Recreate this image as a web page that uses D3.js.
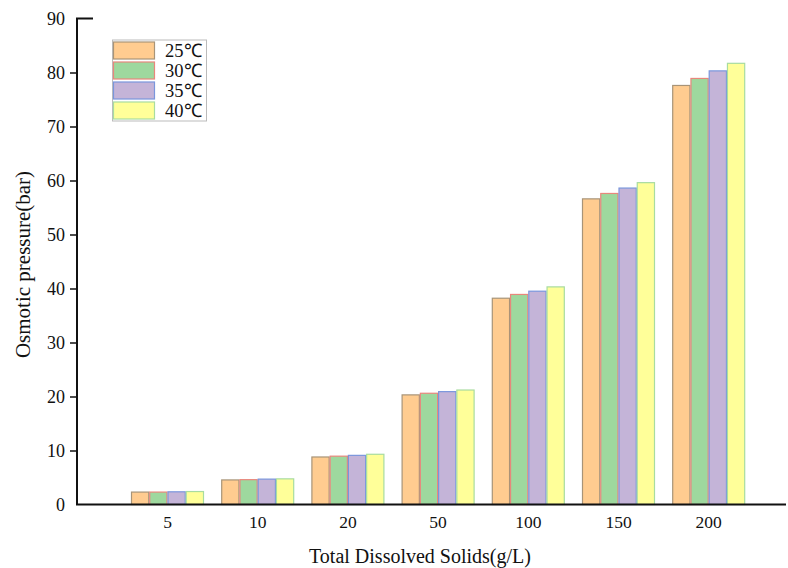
<!DOCTYPE html>
<html>
<head>
<meta charset="utf-8">
<script src="https://cdn.jsdelivr.net/npm/d3@7"></script>
<style>
  html, body { margin: 0; padding: 0; background: #fff; }
  svg { display: block; }
  text { font-family: "Liberation Serif", "Times New Roman", serif; fill: #111; }
</style>
</head>
<body>
<div id="chart"></div>
<script>
// Osmotic pressure of saline water at several temperatures
const categories = ["5", "10", "20", "50", "100", "150", "200"];
const seriesNames = ["25\u2103", "30\u2103", "35\u2103", "40\u2103"];
const t25 = [2.3, 4.55, 8.8, 20.3, 38.2, 56.6, 77.6];
const t30 = [2.3, 4.6, 8.95, 20.6, 38.9, 57.6, 78.9];
const t35 = [2.35, 4.7, 9.1, 20.9, 39.5, 58.6, 80.3];
const t40 = [2.4, 4.75, 9.3, 21.2, 40.3, 59.6, 81.7];
const yTicks = [0, 10, 20, 30, 40, 50, 60, 70, 80, 90];

const seriesValues = [t25, t30, t35, t40];
const fills = ["#FFCC90", "#9ED89E", "#C4B4D8", "#FFFF99"];
const strokes = ["#A89478", "#E8877C", "#7A96DC", "#A8DCA0"];

const W = 788, H = 568;
const plotLeft = 77, plotBottom = 504.5, plotTop = 18.5, plotRight = 786;

const svg = d3.select("#chart").append("svg")
  .attr("width", W).attr("height", H);

const y = d3.scaleLinear().domain([0, 90]).range([plotBottom, plotTop]);
const x0 = d3.scaleBand().domain(categories).range([122.4, 753.8]).padding(0);
const groupW = 73;
const x1 = d3.scaleBand().domain(d3.range(seriesNames.length)).range([0, groupW]).padding(0);

// bars
const groups = svg.append("g").selectAll("g")
  .data(categories)
  .join("g")
  .attr("transform", d => `translate(${x0(d) + (x0.bandwidth() - groupW) / 2},0)`);

groups.selectAll("rect")
  .data((c, ci) => seriesValues.map((vals, si) => ({ si, v: vals[ci] })))
  .join("rect")
  .attr("x", d => x1(d.si) + 0.5)
  .attr("y", d => y(d.v))
  .attr("width", x1.bandwidth() - 1)
  .attr("height", d => y(0) - y(d.v))
  .attr("fill", d => fills[d.si])
  .attr("stroke", d => strokes[d.si])
  .attr("stroke-width", 1.2);

// y axis
const yAxis = svg.append("g").attr("transform", `translate(${plotLeft},0)`)
  .call(d3.axisLeft(y).tickValues(yTicks).tickSize(7).tickPadding(5).tickFormat(d3.format("d")));
yAxis.select(".domain").remove();
yAxis.selectAll(".tick line")
  .attr("stroke", "#111").attr("stroke-width", 1.5)
  .attr("display", d => (d === 0 || d === 90) ? "none" : null);
yAxis.selectAll(".tick text").attr("font-size", 18).attr("fill", "#111")
  .attr("font-family", "Liberation Serif, Times New Roman, serif");

// axis lines
svg.append("path")
  .attr("d", `M${plotLeft + 16},${plotTop} H${plotLeft} V${plotBottom} H${plotRight}`)
  .attr("fill", "none").attr("stroke", "#111").attr("stroke-width", 2);

// x tick labels
svg.append("g").selectAll("text")
  .data(categories)
  .join("text")
  .attr("x", d => x0(d) + x0.bandwidth() / 2)
  .attr("y", 528)
  .attr("text-anchor", "middle")
  .attr("font-size", 17.5)
  .text(d => d);

// axis titles
svg.append("text")
  .attr("x", 420).attr("y", 563)
  .attr("text-anchor", "middle")
  .attr("font-size", 20)
  .text("Total Dissolved Solids(g/L)");

svg.append("text")
  .attr("transform", `translate(30,${(plotTop + plotBottom) / 2 + 3}) rotate(-90)`)
  .attr("text-anchor", "middle")
  .attr("font-size", 21)
  .text("Osmotic pressure(bar)");

// legend
const lg = svg.append("g").attr("transform", "translate(113,40)");
lg.append("rect")
  .attr("x", -0.5).attr("y", 0).attr("width", 94).attr("height", 81)
  .attr("fill", "#fff").attr("stroke", "#bbb").attr("stroke-width", 1);
const items = lg.selectAll("g.item")
  .data(seriesNames)
  .join("g").attr("class", "item")
  .attr("transform", (d, i) => `translate(0,${1.5 + i * 20})`);
items.append("rect")
  .attr("x", 0.5).attr("y", 0.5).attr("width", 41).attr("height", 17)
  .attr("fill", (d, i) => fills[i])
  .attr("stroke", (d, i) => strokes[i])
  .attr("stroke-width", 1.2);
items.append("text")
  .attr("x", 52).attr("y", 15.5)
  .attr("font-size", 18.5)
  .text(d => d);
</script>
</body>
</html>
